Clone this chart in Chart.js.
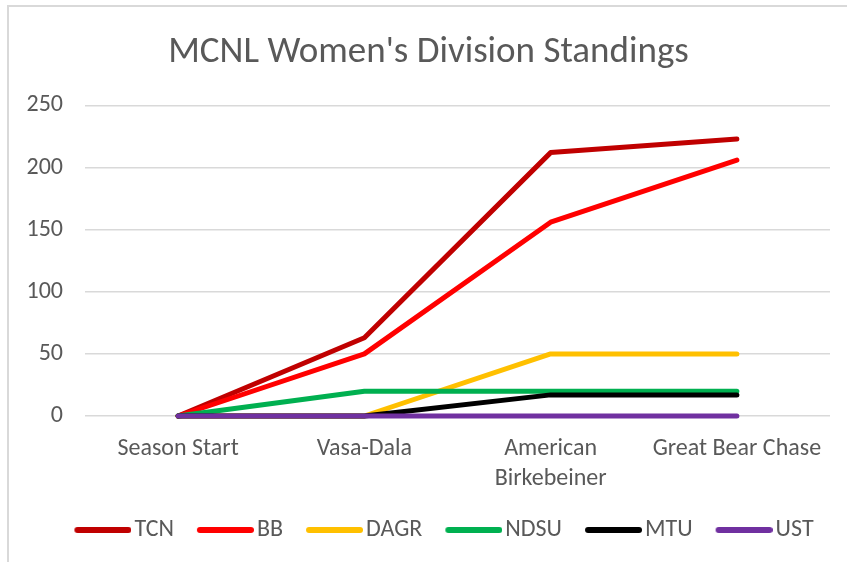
<!DOCTYPE html>
<html>
<head>
<meta charset="utf-8">
<script src="https://cdn.jsdelivr.net/npm/chart.js@4"></script>
<style>
  html, body { margin: 0; padding: 0; background: #fff; }
  #wrap { position: relative; width: 847px; height: 562px; overflow: hidden; }
  #frame { position: absolute; left: 7px; top: 5px; width: 900px; height: 600px; border: 2px solid #d9d9d9; box-sizing: border-box; }
  canvas { position: absolute; left: 0; top: 0; }
</style>
</head>
<body>
<div id="wrap">
  <div id="frame"></div>
  <canvas id="standingsChart" width="847" height="562"></canvas>
</div>
<script>
const races = ['Season Start', 'Vasa-Dala', ['American', 'Birkebeiner'], 'Great Bear Chase'];
const teams = ['TCN', 'BB', 'DAGR', 'NDSU', 'MTU', 'UST'];
const teamColors = ['#C00000', '#FF0000', '#FFC000', '#00B050', '#000000', '#7030A0'];

const tcnPoints = [0, 63, 212, 223];
const bbPoints = [0, 50, 156, 206];
const dagrPoints = [0, 0, 50, 50];
const ndsuPoints = [0, 20, 20, 20];
const mtuPoints = [0, 0, 17, 17];
const ustPoints = [0, 0, 0, 0];

const seriesPoints = [tcnPoints, bbPoints, dagrPoints, ndsuPoints, mtuPoints, ustPoints];

const textColor = '#595959';
const gridColor = '#d9d9d9';
const fontFamily = 'Carlito, Lato, "Open Sans", sans-serif';
const fontSize = 24;

// legend marker: a short thick line sitting right next to the label text
function legendLine(color) {
  const c = document.createElement('canvas');
  c.width = 66;
  c.height = 8;
  const g = c.getContext('2d');
  g.strokeStyle = color;
  g.lineWidth = 6;
  g.lineCap = 'round';
  g.beginPath();
  g.moveTo(12, 4);
  g.lineTo(63, 4);
  g.stroke();
  return c;
}

// the legend row sits a little right of centre in the original
const legendShift = {
  id: 'legendShift',
  afterLayout(chart) {
    chart.legend.left += 15.5;
    chart.legend.right += 15.5;
  },
};

const ctx = document.getElementById('standingsChart').getContext('2d');

new Chart(ctx, {
  type: 'line',
  data: {
    labels: races,
    datasets: teams.map((team, i) => ({
      label: team,
      data: seriesPoints[i],
      borderColor: teamColors[i],
      backgroundColor: teamColors[i],
      borderWidth: 5,
      borderCapStyle: 'round',
      borderJoinStyle: 'round',
      pointRadius: 0,
      pointHoverRadius: 0,
      pointStyle: legendLine(teamColors[i]),
      tension: 0,
      fill: false,
      clip: false,
      // later series sit on top, like the original
      order: teams.length - i,
    })),
  },
  options: {
    responsive: false,
    animation: false,
    layout: {
      padding: { left: 27, right: 17, top: 0, bottom: 10 },
    },
    plugins: {
      title: {
        display: true,
        text: "MCNL Women's Division Standings",
        color: textColor,
        font: { family: fontFamily, size: 37, weight: 'normal' },
        padding: { top: 31, bottom: 30 },
      },
      legend: {
        position: 'bottom',
        labels: {
          color: textColor,
          font: { family: fontFamily, size: fontSize },
          usePointStyle: true,
          pointStyleWidth: 48,
          padding: 23,
          sort: (a, b) => a.datasetIndex - b.datasetIndex,
        },
      },
      tooltip: { enabled: false },
    },
    scales: {
      x: {
        offset: true,
        grid: { display: false, drawTicks: false },
        border: { display: false },
        ticks: {
          color: textColor,
          font: { family: fontFamily, size: fontSize, lineHeight: 1.25 },
          padding: 18,
          maxRotation: 0,
          autoSkip: false,
        },
        afterFit: (scale) => { scale.height = 79; },
      },
      y: {
        min: 0,
        max: 250,
        ticks: {
          stepSize: 50,
          color: textColor,
          font: { family: fontFamily, size: fontSize },
          padding: 22,
        },
        grid: { color: gridColor, lineWidth: 1.5, drawTicks: false },
        border: { display: false },
        afterFit: (scale) => { scale.width = 58; },
      },
    },
  },
  plugins: [legendShift],
});
</script>
</body>
</html>
